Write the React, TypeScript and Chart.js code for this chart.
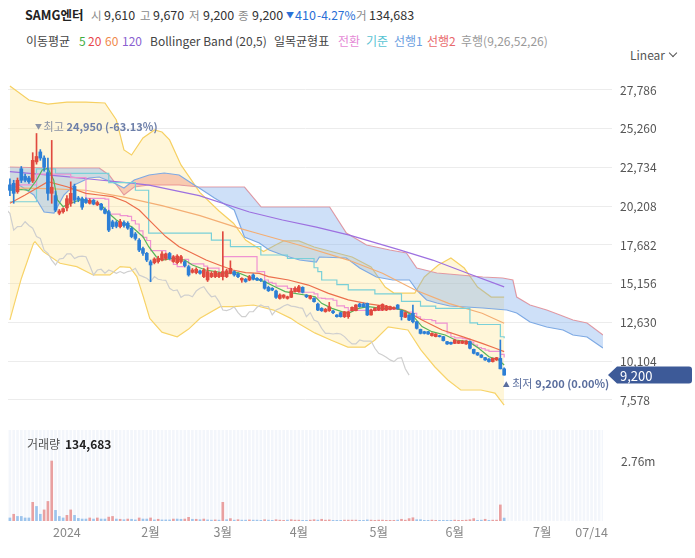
import React, { useEffect, useRef } from "react";
import { Chart, registerables } from "chart.js";

Chart.register(...registerables);

// ---------------- data ----------------
// trading-day index 0 = 2023-12-07 ... index 130 = 2024-06-21
const OPEN = [21600,21700,21150,22650,22150,22050,21850,23100,23750,23350,22400,21050,20900,19750,19850,20100,20400,21500,20750,20700,20650,20400,20600,20300,20350,20000,19850,19200,19150,18880,19150,19100,18770,18400,18000,17450,17140,16590,16530,16600,16700,16800,17130,16600,16530,16600,16600,16270,15900,15880,15990,15620,15400,15620,15620,15620,15620,15620,15840,15950,15790,15400,15450,15400,15730,15510,15450,15290,14920,14860,14680,14200,14270,14200,14270,14640,14640,14920,14420,14200,14200,13830,13550,13340,13400,13380,13120,13270,13010,13010,13400,13400,13830,13830,13880,13120,13400,13440,13440,13440,13480,13520,13770,13400,12970,13120,13230,12680,12180,12030,12030,11770,11710,11770,11710,11380,11340,11270,11270,11270,11230,11380,10880,10660,10510,10340,10250,10080,10190,10290,9610];
const HIGH = [22000,21900,22050,22800,22300,22150,23700,24950,23900,23500,23350,24500,21200,20000,20100,20900,21800,21650,20850,20800,20750,20700,20650,20550,20400,20100,19950,19300,19250,19350,19250,19200,18850,18500,18100,17550,17200,16700,16850,16950,17250,17150,17200,17000,17050,17000,16650,16350,16150,16200,16050,16150,16200,15950,16000,15900,18550,16100,16650,16000,15850,15550,15500,15700,15800,15560,15500,15350,15000,14900,14750,14500,14450,14350,14850,14950,15050,14960,14450,14400,14250,13900,13600,13550,13940,13420,13150,13300,13350,13350,13650,13800,13880,13900,13900,13500,13600,13750,13850,13750,13700,13650,13800,13420,13300,13150,13770,12700,12200,12060,12060,11950,11900,11800,11730,11400,11360,11520,11450,11450,11450,11420,10900,10680,10540,10360,10270,10320,10360,11490,9670];
const LOW = [20900,20400,21050,21750,21800,21700,21750,22950,23200,22500,20600,20400,19850,19650,19750,19900,20200,20400,20500,20000,20400,20350,20300,20250,19950,19700,18550,18750,18800,18800,18850,18700,18150,18000,17250,17000,16600,15290,16450,16500,16650,16700,16750,16550,16450,16500,16250,15650,15850,15800,15780,15550,15300,15550,15550,15550,15400,15550,15800,15650,15550,15250,15250,15350,15400,15350,15300,14800,14650,14700,14200,14150,14200,14150,14250,14600,14600,14550,14250,14150,13950,13400,13350,13300,13350,13200,12980,12980,12950,12900,13380,13380,13620,13620,13080,13100,13380,13400,13400,13400,13450,13480,13500,12790,12950,12750,12600,12200,11880,11880,11850,11740,11690,11680,11420,11200,11200,11250,11250,11250,11200,10900,10580,10480,10330,10150,10050,10050,10150,9600,9200];
const CLOSE = [21250,21050,21900,21900,21900,21800,23200,23450,23350,22750,21050,21450,19950,19900,20050,20700,21050,20600,20650,20150,20450,20600,20350,20450,20000,19750,18650,18880,18900,19200,18950,18780,18230,18110,17350,17140,16700,16380,16770,16810,17100,17100,16800,16920,16960,16920,16340,15730,16050,16100,15840,16050,15950,15840,15950,15840,15950,16000,16160,15730,15620,15510,15300,15620,15450,15400,15380,14860,14700,14750,14270,14420,14420,14310,14680,14860,14960,14600,14310,14360,13990,13440,13400,13490,13650,13270,13010,13010,13330,13330,13620,13770,13660,13660,13120,13440,13550,13700,13810,13700,13660,13600,13550,13010,13270,12790,12680,12250,11920,11920,11880,11920,11880,11710,11450,11230,11230,11490,11420,11420,11420,10950,10620,10510,10360,10190,10080,10290,10340,9610,9200];
const VOLUME = [140000,310000,210000,210000,140000,140000,860000,670000,310000,510000,900000,2760000,490000,210000,140000,260000,510000,260000,120000,90000,90000,140000,90000,140000,90000,90000,180000,210000,90000,80000,60000,90000,80000,50000,140000,90000,90000,140000,50000,80000,50000,50000,50000,90000,90000,80000,90000,170000,80000,80000,60000,90000,50000,40000,50000,40000,860000,60000,110000,40000,60000,40000,40000,50000,40000,40000,30000,60000,40000,30000,60000,40000,30000,40000,60000,40000,40000,30000,30000,40000,60000,40000,80000,40000,50000,30000,30000,30000,40000,40000,40000,40000,30000,30000,50000,40000,30000,40000,40000,30000,30000,30000,40000,80000,40000,110000,150000,60000,60000,30000,30000,40000,30000,30000,30000,30000,30000,40000,30000,30000,40000,60000,110000,30000,40000,80000,30000,40000,40000,740000,134683];
const VOLUME_UP = [0,1,0,0,0,0,1,0,0,1,1,1,0,0,0,1,1,0,0,0,0,1,0,1,0,0,1,1,0,1,0,1,0,0,1,0,0,1,0,1,0,0,0,1,0,0,1,1,0,1,0,1,0,0,1,0,1,0,1,0,1,0,0,1,0,0,0,1,0,0,1,1,1,0,1,1,1,0,0,1,1,0,1,1,1,0,0,0,1,1,1,1,0,0,0,1,1,1,1,1,1,1,0,1,1,1,1,0,0,0,0,1,1,0,0,0,0,1,1,1,1,1,1,0,0,1,0,1,1,1,0];

// indicator lines: [day index, price]
const MA5: [number, number][] = [[0,21250],[3,21300],[5,21250],[7,21900],[8.5,22570],[10,22680],[11.5,21920],[12.5,20620],[14,20180],[15,20290],[17,20500],[19,20660],[21.5,20500],[24,20290],[26,19750],[28,19310],[29.5,19090],[32,18880],[35,18220],[36.5,17570],[38.5,16920],[40,16700],[43,16810],[46,16700],[48,16380],[51.5,16050],[57,15830],[60,15880],[63,15580],[67,15290],[69.7,14965],[72.4,14640],[75,14530],[77.6,14420],[80.3,14310],[82,13880],[84.7,13550],[87.3,13340],[89,13230],[91.7,13550],[94.3,13660],[97.8,13550],[101.4,13550],[103.2,13440],[105.8,13120],[108.4,12360],[111,12030],[114.5,11815],[117.2,11490],[120.7,11380],[123.3,10945],[126,10400],[128.6,10185],[130,9860]];
const MA20: [number, number][] = [[0,20400],[4,20940],[10,21810],[15,21480],[20,21050],[23.5,20940],[27,20830],[30.5,20500],[34,19960],[37.5,19090],[41,18230],[44.5,17570],[48,17140],[51.6,16700],[55,16380],[58.6,16050],[62,15880],[65.6,15830],[68,15620],[73.3,15400],[78.5,15070],[83.8,14530],[89,14100],[94.3,13840],[99.6,13660],[104,13400],[108.4,12790],[113.7,12140],[119,11710],[124.2,11270],[127.7,10950],[130,10730]];
const MA60: [number, number][] = [[0,21400],[10,21350],[20,21250],[30,20800],[40,20250],[50,19600],[60,18800],[65,18450],[76,17680],[89,16700],[98,15840],[106.6,14750],[115.4,13880],[124.2,13230],[130,12580]];
const MA120: [number, number][] = [[0,22460],[14.8,22140],[23.5,21920],[32,21720],[36.6,21590],[49.8,20900],[63,19830],[71.7,19310],[80.6,18850],[89.3,18330],[102.5,17360],[111.2,16700],[120.2,15860],[130,14950]];
const BB_UPPER: [number, number][] = [[0,28050],[5,27130],[10,26870],[15,27000],[20,27000],[25,26940],[28,25830],[30,23880],[32,23550],[35,24660],[38,25180],[40,25050],[42,24530],[45,22900],[50,21100],[55,19900],[58.8,19100],[62,18000],[66.7,17250],[70,17700],[72,17950],[76,17950],[80,17550],[90,16900],[95,16250],[98.7,14940],[101,14550],[106.5,14550],[109,15600],[112.7,16380],[116,16830],[119.5,16180],[123,14940],[126.6,14290],[130,14290]];
const BB_LOWER: [number, number][] = [[0,12800],[3,15500],[6.2,17790],[6.6,17900],[8.8,17250],[13.2,16490],[17.6,16270],[21.9,15730],[26.3,15730],[29,16270],[31.6,16220],[33.4,15620],[35.1,14310],[36.8,12900],[40,12000],[44,11700],[47,12200],[50,12900],[55.3,13660],[58.8,13660],[64.1,13770],[69.4,13440],[73.9,12900],[75.7,12600],[80.2,11950],[84.4,11490],[88.9,11030],[93.4,11030],[96,11490],[99.5,12340],[104.7,12140],[108.1,10840],[111.8,9730],[115.2,8880],[118.6,8230],[123.9,8230],[127.6,8030],[130,7250]];
const ICHI_CONV: [number, number][] = [[0,21600],[7,22300],[16,22075],[20,20725],[25,20675],[26,19700],[29,19600],[31,19550],[32,19275],[33,19050],[34,18600],[35,18175],[36,17975],[37,17320],[41,16895],[42,16700],[43,16420],[44,16270],[46,16750],[47,16450],[51,16300],[52,16175],[55,15825],[56,16925],[65,15950],[67,15400],[68,15250],[69,15175],[70,15000],[73,14855],[74,14825],[75,14750],[76,14600],[80,14500],[81,14225],[82,14200],[83,14175],[85,14080],[86,13715],[88,13600],[89,13420],[98,13490],[103,13320],[104,13300],[106,13225],[107,13000],[108,12840],[109,12825],[111,12755],[112,12595],[115,11950],[116,11700],[117,11630],[119,11575],[120,11550],[121,11350],[122,11155],[123,11000],[124,10925],[125,10835],[126,10750],[129,10545],[130,10345]];
const ICHI_BASE: [number, number][] = [[0,20500],[7,22650],[12,22350],[26,21750],[33,21250],[36.5,18450],[53,18000],[58,17570],[66,17030],[73,16800],[80,16200],[81,15950],[82,15400],[86,15100],[89,14750],[96,14500],[103,14000],[108,13700],[112,13550],[121,12600],[123,12500],[129,11700],[130,11600]];
const ICHI_SPAN1: [number, number][] = [[0,21267],[2.4,21593],[6.3,20941],[9,19833],[11.6,19768],[14.2,20941],[16.9,21593],[20.8,22049],[23.5,22114],[27.4,21723],[30,21397],[32.7,21919],[36.6,22245],[40.6,22375],[44.5,22245],[48.5,21593],[49.8,21397],[53.8,20745],[59,19963],[61.7,18203],[65.6,17812],[68.2,17356],[71.7,17030],[76.2,16704],[80.6,16573],[81.4,16899],[88.5,16834],[92,16182],[96.4,15596],[100.7,15400],[105.1,15400],[107,14748],[109.6,14096],[112.3,13900],[115.7,13705],[124.4,13575],[130.7,13444],[133.3,13249],[136.8,12662],[141.2,12336],[145.5,12141],[148.1,11815],[151.8,11685],[156,10968]];
const ICHI_SPAN2: [number, number][] = [[0,22766],[10.3,22701],[23.5,22701],[26.1,22245],[30,20941],[32.7,21462],[36.6,21593],[44.5,21593],[49.8,21462],[61.7,21462],[66.1,20158],[84.1,20158],[88.5,18464],[93.8,17682],[99.9,17356],[104.3,17160],[107,16182],[112.3,15856],[124.4,15596],[129.6,15531],[132.3,15400],[133.3,14291],[136.8,13770],[141.2,13444],[144.7,13119],[148.1,12792],[151.8,12597],[156,11815]];
const LAG_SHIFT = 25; // 후행스팬: closes drawn 25 sessions back

const X_TICK_DAYS = [15, 37, 56, 76, 97, 117, 140, 153];
const X_TICK_LABELS = ["2024", "2월", "3월", "4월", "5월", "6월", "7월", "07/14"];
const PRICE_TICKS = [7578, 10104, 12630, 15156, 17682, 20208, 22734, 25260, 27786];
const VOLUME_TICKS = [2760000];
const VOLUME_TICK_LABELS = ["2.76m"];

// ---------------- layout / style ----------------
const FONT = '"Noto Sans CJK KR", "Noto Sans", sans-serif';
const X_MIN = -0.5;
const X_MAX = 156;
const Y_MIN = 6795;
const Y_MAX = 29611;
const VOL_MAX = 4186000;
const UP = "#e0493f";
const DOWN = "#2c7fd6";

const days = OPEN.map((_, i) => i);
const pts = (p: [number, number][]) => p.map(([x, y]) => ({ x, y }));

function line(label: string, p: [number, number][], color: string, order: number, extra: any = {}) {
  return {
    type: "line",
    label,
    data: pts(p),
    borderColor: color,
    borderWidth: 1.2,
    pointRadius: 0,
    tension: 0,
    fill: false,
    order,
    ...extra,
  };
}

const fmt = (v: number) => v.toLocaleString("en-US");

const priceOverlay = {
  id: "priceOverlay",
  afterDatasetsDraw(chart: any) {
    const { ctx, scales, chartArea } = chart;
    const xs = scales.x, ys = scales.y;
    const last = CLOSE[CLOSE.length - 1];
    let hi = 0, lo = 0;
    HIGH.forEach((v, i) => { if (v > HIGH[hi]) hi = i; });
    LOW.forEach((v, i) => { if (v < LOW[lo]) lo = i; });
    ctx.save();
    ctx.textBaseline = "middle";
    // high label
    const hx = xs.getPixelForValue(hi) + 2;
    const hy = ys.getPixelForValue(HIGH[hi]) - 7;
    ctx.fillStyle = "#8a93a5";
    ctx.font = `7px ${FONT}`;
    ctx.textAlign = "center";
    ctx.fillText("▼", hx, hy);
    ctx.textAlign = "left";
    ctx.font = `11px ${FONT}`;
    ctx.fillText("최고", hx + 5, hy);
    const hPct = ((last / HIGH[hi] - 1) * 100).toFixed(2);
    ctx.fillStyle = "#6d7fa9";
    ctx.font = `bold 11px ${FONT}`;
    ctx.fillText(`${fmt(HIGH[hi])} (${hPct}%)`, hx + 28, hy);
    // low label
    const lx = xs.getPixelForValue(lo) + 2;
    const ly = ys.getPixelForValue(LOW[lo]) + 9;
    ctx.fillStyle = "#5a6e9e";
    ctx.font = `7px ${FONT}`;
    ctx.textAlign = "center";
    ctx.fillText("▲", lx, ly);
    ctx.textAlign = "left";
    ctx.font = `11px ${FONT}`;
    ctx.fillText("최저", lx + 6, ly);
    const lPct = ((last / LOW[lo] - 1) * 100).toFixed(2);
    ctx.font = `bold 11px ${FONT}`;
    ctx.fillText(`${fmt(LOW[lo])} (${lPct}%)`, lx + 29, ly);
    // last price tag
    const ty = ys.getPixelForValue(last);
    const r = chartArea.right;
    ctx.fillStyle = "#3d5a98";
    ctx.beginPath();
    ctx.moveTo(r + 5, ty);
    ctx.lineTo(r + 14, ty - 8.5);
    ctx.lineTo(r + 86, ty - 8.5);
    ctx.quadraticCurveTo(r + 89, ty - 8.5, r + 89, ty - 5.5);
    ctx.lineTo(r + 89, ty + 5.5);
    ctx.quadraticCurveTo(r + 89, ty + 8.5, r + 86, ty + 8.5);
    ctx.lineTo(r + 14, ty + 8.5);
    ctx.closePath();
    ctx.fill();
    ctx.fillStyle = "#ffffff";
    ctx.font = `13px ${FONT}`;
    ctx.fillText(fmt(last), r + 17, ty + 0.5);
    ctx.restore();
  },
};

const volBackground = {
  id: "volBackground",
  beforeDatasetsDraw(chart: any) {
    const { ctx, chartArea: a, scales } = chart;
    ctx.save();
    ctx.fillStyle = "#f3f6fb";
    ctx.fillRect(a.left, a.top, a.right - a.left, a.bottom - a.top);
    ctx.strokeStyle = "#ffffff";
    ctx.lineWidth = 1.2;
    for (let d = 0; d <= X_MAX; d++) {
      const px = scales.x.getPixelForValue(d - 0.5);
      ctx.beginPath();
      ctx.moveTo(px, a.top);
      ctx.lineTo(px, a.bottom);
      ctx.stroke();
    }
    ctx.restore();
  },
};

function priceConfig(): any {
  const candleColors = days.map((i) => (CLOSE[i] >= OPEN[i] ? UP : DOWN));
  const datasets: any[] = [
    {
      type: "bar", label: "body",
      data: days.map((i) => ({ x: i, y: [OPEN[i], CLOSE[i]] })),
      backgroundColor: candleColors, barThickness: 3, grouped: false, minBarLength: 1, borderWidth: 0, order: 0,
    },
    {
      type: "bar", label: "wick",
      data: days.map((i) => ({ x: i, y: [LOW[i], HIGH[i]] })),
      backgroundColor: candleColors, barThickness: 1, grouped: false, borderWidth: 0, order: 1,
    },
    line("MA5", MA5, "#56b45a", 10),
    line("MA20", MA20, "#ec6e4c", 11),
    line("전환", ICHI_CONV, "#ef93d2", 12, { stepped: "before" }),
    line("기준", ICHI_BASE, "#79d0d8", 13, { stepped: "before" }),
    line("MA60", MA60, "#f4ae74", 14),
    line("MA120", MA120, "#9d70e0", 15),
    {
      type: "line", label: "후행",
      data: days.map((i) => ({ x: i - LAG_SHIFT, y: CLOSE[i] })),
      borderColor: "#cfcfcf", borderWidth: 1.2, pointRadius: 0, tension: 0, fill: false, order: 16,
    },
  ];
  const span2Index = datasets.length + 1;
  datasets.push(
    line("선행1", ICHI_SPAN1, "#7eaae4", 17, {
      fill: { target: span2Index, above: "rgba(238,140,120,0.42)", below: "rgba(120,170,235,0.36)" },
    })
  );
  datasets.push(line("선행2", ICHI_SPAN2, "#eb9aa0", 18));
  const lowerIndex = datasets.length + 1;
  datasets.push(
    line("BB upper", BB_UPPER, "#f6d062", 19, {
      fill: { target: lowerIndex, above: "rgba(255,230,145,0.34)", below: "rgba(255,230,145,0.34)" },
    })
  );
  datasets.push(line("BB lower", BB_LOWER, "#f6d062", 20));

  return {
    type: "line",
    data: { datasets },
    options: {
      responsive: false,
      animation: false,
      events: [],
      layout: { padding: { left: 8, right: 0, top: 0, bottom: 0 } },
      plugins: { legend: { display: false }, tooltip: { enabled: false } },
      scales: {
        x: { type: "linear", min: X_MIN, max: X_MAX, display: false, offset: false, grid: { offset: false } },
        y: {
          type: "linear", position: "right", min: Y_MIN, max: Y_MAX, beginAtZero: false,
          afterBuildTicks: (s: any) => { s.ticks = PRICE_TICKS.map((v) => ({ value: v })); },
          afterFit: (s: any) => { s.width = 92; s.paddingTop = 0; s.paddingBottom = 0; },
          grid: { color: "#ececec", drawTicks: true, tickLength: 9 },
          border: { display: false },
          ticks: { padding: 8, color: "#555", font: { size: 12, family: FONT }, callback: (v: any) => fmt(Number(v)) },
        },
      },
    },
    plugins: [priceOverlay],
  };
}

function volumeConfig(): any {
  return {
    type: "bar",
    data: {
      datasets: [
        {
          label: "거래량",
          data: days.map((i) => ({ x: i, y: VOLUME[i] })),
          backgroundColor: days.map((i) => (VOLUME_UP[i] ? "#e9a0a0" : "#9dc4ec")),
          barThickness: 2, grouped: false, borderWidth: 0,
        },
      ],
    },
    options: {
      responsive: false,
      animation: false,
      events: [],
      layout: { padding: { left: 8, right: 0, top: 5, bottom: 0 } },
      plugins: { legend: { display: false }, tooltip: { enabled: false } },
      scales: {
        x: {
          type: "linear", min: X_MIN, max: X_MAX, offset: false,
          afterBuildTicks: (s: any) => { s.ticks = X_TICK_DAYS.map((v) => ({ value: v })); },
          afterFit: (s: any) => { s.height = 24; s.paddingLeft = 0; s.paddingRight = 0; },
          grid: { display: false, drawTicks: false, offset: false },
          border: { display: false },
          ticks: {
            autoSkip: false, maxRotation: 0, padding: 4, color: "#888",
            font: { size: 12.5, family: FONT },
            callback: (_v: any, i: number) => X_TICK_LABELS[i],
          },
        },
        y: {
          type: "linear", position: "right", min: 0, max: VOL_MAX,
          afterBuildTicks: (s: any) => { s.ticks = VOLUME_TICKS.map((v) => ({ value: v })); },
          afterFit: (s: any) => { s.width = 92; s.paddingTop = 0; s.paddingBottom = 0; },
          grid: { display: false, drawTicks: false },
          border: { display: false },
          ticks: {
            padding: 18, color: "#555", font: { size: 12, family: FONT },
            callback: (_v: any, i: number) => VOLUME_TICK_LABELS[i],
          },
        },
      },
    },
    plugins: [volBackground],
  };
}

const T = (text: string, left: number, cy: number, color: string, extra: any = {}) => (
  <span
    style={{
      position: "absolute", left, top: cy - 9, lineHeight: "18px", height: 18,
      fontSize: 12, color, whiteSpace: "nowrap", ...extra,
    }}
  >
    {text}
  </span>
);

export default function App() {
  const priceRef = useRef<HTMLCanvasElement>(null);
  const volRef = useRef<HTMLCanvasElement>(null);

  useEffect(() => {
    const pc = new Chart(priceRef.current as HTMLCanvasElement, priceConfig());
    const vc = new Chart(volRef.current as HTMLCanvasElement, volumeConfig());
    return () => {
      pc.destroy();
      vc.destroy();
    };
  }, []);

  const gray = "#8a8a8a";
  const dark = "#333";
  const blue = "#2a6fd6";
  const num = { fontSize: 12.5 };
  const lab = { fontSize: 11.5 };
  return (
    <div
      style={{
        position: "absolute", left: 0, top: 0, width: 695, height: 558,
        background: "#fff", fontFamily: FONT, overflow: "hidden",
      }}
    >
      {T("SAMG엔터", 25, 15, "#222", { fontWeight: 700, fontSize: 12.5 })}
      {T("시", 91, 15, gray, lab)}
      {T("9,610", 104, 15, dark, num)}
      {T("고", 140, 15, gray, lab)}
      {T("9,670", 153, 15, dark, num)}
      {T("저", 189, 15, gray, lab)}
      {T("9,200", 203, 15, dark, num)}
      {T("종", 238, 15, gray, lab)}
      {T("9,200", 252, 15, dark, num)}
      {T("▼", 286, 15, blue, { fontSize: 8 })}
      {T("410", 295, 15, blue, num)}
      {T("-4.27%", 317, 15, blue, { fontSize: 12 })}
      {T("거", 356, 15, gray, lab)}
      {T("134,683", 369, 15, dark, num)}

      {T("이동평균", 26, 41, "#444")}
      {T("5", 79, 41, "#3fae3f")}
      {T("20", 88, 41, "#e8474d")}
      {T("60", 105, 41, "#f08a4b")}
      {T("120", 122, 41, "#8a5fd0")}
      {T("Bollinger Band (20,5)", 150, 41, "#444")}
      {T("일목균형표", 274, 41, "#444")}
      {T("전환", 338, 41, "#e58ad6")}
      {T("기준", 366, 41, "#58c3d3")}
      {T("선행1", 394, 41, "#6a9ee0")}
      {T("선행2", 427, 41, "#e8696b")}
      {T("후행(9,26,52,26)", 461, 41, "#999")}

      {T("Linear", 630, 55, "#555")}
      <span
        style={{
          position: "absolute", left: 670, top: 50, width: 5, height: 5,
          borderRight: "1.3px solid #555", borderBottom: "1.3px solid #555",
          transform: "rotate(45deg)",
        }}
      />

      <canvas
        ref={priceRef}
        width={695}
        height={350}
        style={{ position: "absolute", left: 0, top: 62, width: 695, height: 350 }}
      />
      <canvas
        ref={volRef}
        width={695}
        height={120}
        style={{ position: "absolute", left: 0, top: 425, width: 695, height: 120 }}
      />
      {T("거래량", 27, 444, "#555", { fontSize: 12 })}
      {T("134,683", 65, 444, "#222", { fontSize: 12, fontWeight: 700 })}
    </div>
  );
}
